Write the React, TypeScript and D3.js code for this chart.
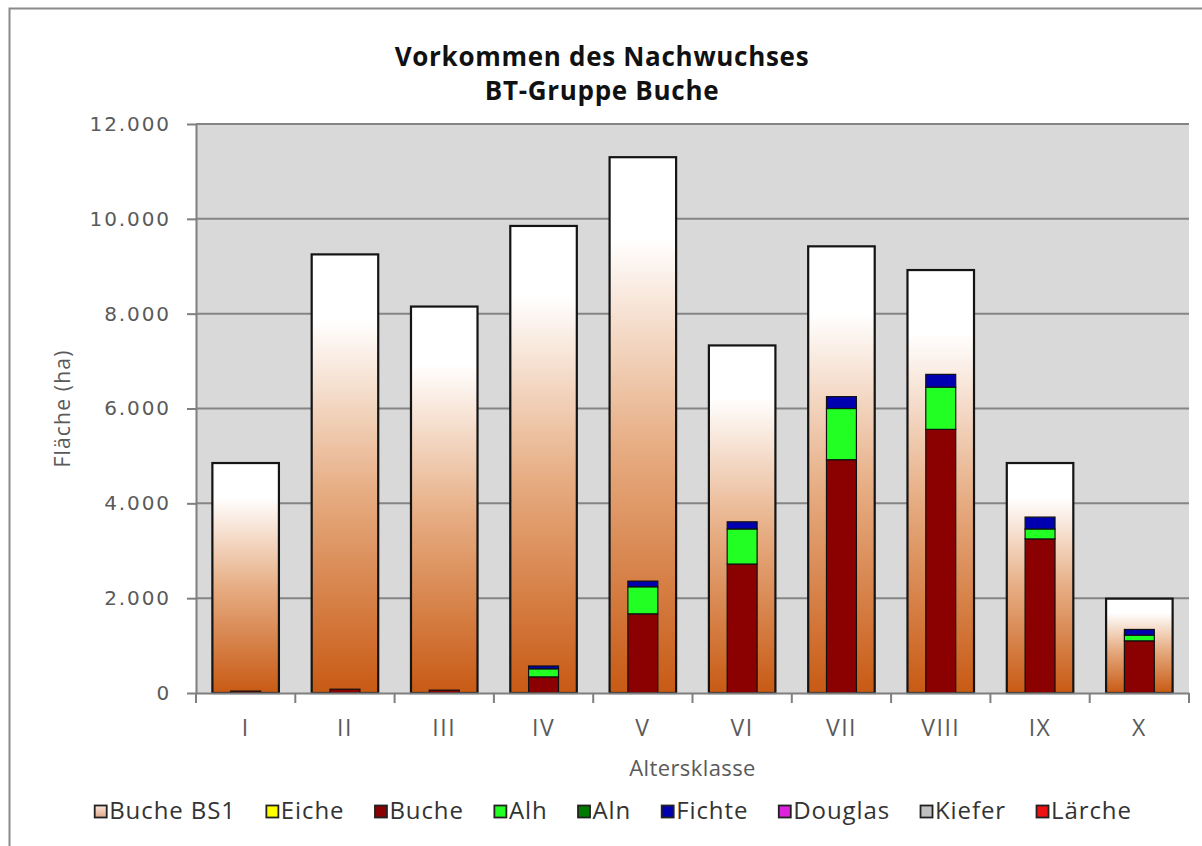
import React, { useEffect, useRef } from "react";
import * as d3 from "d3";

const categories = ["I", "II", "III", "IV", "V", "VI", "VII", "VIII", "IX", "X"];
const bucheBS1 = [4850, 9250, 8150, 9850, 11300, 7330, 9420, 8920, 4850, 1990];
const eiche = [0, 0, 0, 0, 0, 0, 0, 0, 0, 0];
const buche = [40, 80, 60, 340, 1670, 2720, 4920, 5560, 3250, 1100];
const alh = [0, 0, 0, 170, 570, 740, 1080, 890, 210, 120];
const aln = [0, 0, 0, 0, 0, 0, 0, 0, 0, 0];
const fichte = [0, 0, 0, 60, 120, 150, 250, 270, 250, 120];
const douglas = [0, 0, 0, 0, 0, 0, 0, 0, 0, 0];
const kiefer = [0, 0, 0, 0, 0, 0, 0, 0, 0, 0];
const laerche = [0, 0, 0, 0, 0, 0, 0, 0, 0, 0];
const yTicks = [0, 2000, 4000, 6000, 8000, 10000, 12000];

const stackSeries = [
  { name: "Eiche", values: eiche, color: "#ffff00" },
  { name: "Buche", values: buche, color: "#8b0000" },
  { name: "Alh", values: alh, color: "#22ff22" },
  { name: "Aln", values: aln, color: "#007a00" },
  { name: "Fichte", values: fichte, color: "#0000b0" },
  { name: "Douglas", values: douglas, color: "#dd22dd" },
  { name: "Kiefer", values: kiefer, color: "#c0c0c0" },
  { name: "Lärche", values: laerche, color: "#ee1111" },
];

const W = 1202;
const H = 846;
const margin = { top: 124, right: 13, bottom: 153, left: 196 };

function App() {
  const ref = useRef<SVGSVGElement>(null);

  useEffect(() => {
    const svg = d3.select(ref.current);
    svg.selectAll("*").remove();

    let width = W - margin.left - margin.right,
      height = H - margin.top - margin.bottom;

    const defs = svg.append("defs");
    const grad = defs.append("linearGradient")
      .attr("id", "bs1")
      .attr("x1", 0).attr("y1", 0).attr("x2", 0).attr("y2", 1);
    grad.append("stop").attr("offset", "0%").attr("stop-color", "#ffffff");
    grad.append("stop").attr("offset", "15%").attr("stop-color", "#ffffff");
    grad.append("stop").attr("offset", "55%").attr("stop-color", "#e6ab80");
    grad.append("stop").attr("offset", "100%").attr("stop-color", "#c85a14");

    const legGrad = defs.append("linearGradient")
      .attr("id", "bs1leg")
      .attr("x1", 0).attr("y1", 0).attr("x2", 0).attr("y2", 1);
    legGrad.append("stop").attr("offset", "0%").attr("stop-color", "#fbe6dc");
    legGrad.append("stop").attr("offset", "100%").attr("stop-color", "#e0a688");

    // chart area
    svg.append("rect")
      .attr("x", 0).attr("y", 0).attr("width", W).attr("height", H)
      .attr("fill", "#fff");
    svg.append("rect")
      .attr("x", 9.5).attr("y", 8.5).attr("width", W + 20).attr("height", H + 20)
      .attr("fill", "none").attr("stroke", "#8a8a8a").attr("stroke-width", 2);

    // title
    const title = svg.append("text")
      .attr("x", 602).attr("text-anchor", "middle")
      .attr("font-family", "'Open Sans', sans-serif")
      .attr("font-weight", "bold").attr("font-size", 26)
      .attr("letter-spacing", 0.7).attr("fill", "#111");
    title.append("tspan").attr("x", 602).attr("y", 66).text("Vorkommen des Nachwuchses");
    title.append("tspan").attr("x", 602).attr("y", 100).text("BT-Gruppe Buche");

    const g = svg.append("g")
      .attr("transform", "translate(" + margin.left + "," + margin.top + ")");

    const x = d3.scaleBand()
      .domain(categories)
      .range([0, width])
      .paddingInner(0.33)
      .paddingOuter(0.165);
    const y = d3.scaleLinear().domain([0, 12000]).range([height, 0]);

    g.append("rect")
      .attr("width", width).attr("height", height)
      .attr("fill", "#d9d9d9");

    g.selectAll(".grid")
      .data(yTicks.filter((t) => t > 0))
      .join("line")
      .attr("x1", 0).attr("x2", width)
      .attr("y1", (d) => y(d)).attr("y2", (d) => y(d))
      .attr("stroke", "#858585").attr("stroke-width", 2);

    // outer bars
    g.selectAll(".outer")
      .data(bucheBS1)
      .join("rect")
      .attr("x", (_, i) => x(categories[i])!)
      .attr("y", (d) => y(d))
      .attr("width", x.bandwidth())
      .attr("height", (d) => height - y(d))
      .attr("fill", "url(#bs1)")
      .attr("stroke", "#141414").attr("stroke-width", 2.2);

    // stacked inner bars
    const rows = categories.map((c, i) => {
      const r: any = { cat: c };
      stackSeries.forEach((s) => (r[s.name] = s.values[i]));
      return r;
    });
    const stacked = d3.stack().keys(stackSeries.map((s) => s.name))(rows);
    const innerW = x.bandwidth() * 0.45;
    stacked.forEach((layer, li) => {
      g.selectAll(".l" + li)
        .data(layer.filter((d) => d[1] - d[0] > 0))
        .join("rect")
        .attr("x", (d: any) => x(d.data.cat)! + (x.bandwidth() - innerW) / 2)
        .attr("y", (d) => y(d[1]))
        .attr("width", innerW)
        .attr("height", (d) => y(d[0]) - y(d[1]))
        .attr("fill", stackSeries[li].color)
        .attr("stroke", "#111").attr("stroke-width", 1.2);
    });

    // y axis
    const yAxis = g.append("g")
      .call(d3.axisLeft(y).tickValues(yTicks).tickSize(9).tickSizeOuter(0)
        .tickFormat((d) => d3.format(",")(d as number).replace(/,/g, ".")));
    yAxis.select(".domain").attr("stroke", "#7f7f7f").attr("stroke-width", 2);
    yAxis.selectAll(".tick line").attr("stroke", "#7f7f7f").attr("stroke-width", 2);
    yAxis.selectAll(".tick text")
      .attr("x", -25)
      .attr("fill", "#5a5a5a")
      .attr("font-family", "'DejaVu Sans', sans-serif")
      .attr("font-size", 20)
      .attr("letter-spacing", 1.9);

    // x axis
    const xAxis = g.append("g")
      .attr("transform", "translate(0," + height + ")")
      .call(d3.axisBottom(x).tickSize(0).tickSizeOuter(0));
    xAxis.select(".domain").attr("stroke", "#7f7f7f").attr("stroke-width", 2);
    xAxis.selectAll(".tick text")
      .attr("y", 0).attr("dy", 43)
      .attr("fill", "#5a5a5a")
      .attr("font-family", "'Open Sans', sans-serif")
      .attr("font-size", 23)
      .attr("letter-spacing", 1.5);
    xAxis.selectAll(".sep")
      .data(d3.range(categories.length + 1))
      .join("line")
      .attr("x1", (i) => i * x.step()).attr("x2", (i) => i * x.step())
      .attr("y1", 0).attr("y2", 10)
      .attr("stroke", "#7f7f7f").attr("stroke-width", 2);

    // axis titles
    svg.append("text")
      .attr("x", margin.left + width / 2).attr("y", 776)
      .attr("text-anchor", "middle")
      .attr("font-family", "'Open Sans', sans-serif")
      .attr("font-size", 22).attr("letter-spacing", 0.4).attr("fill", "#5a5a5a")
      .text("Altersklasse");
    svg.append("text")
      .attr("transform", "translate(70," + (margin.top + height / 2) + ") rotate(-90)")
      .attr("text-anchor", "middle")
      .attr("font-family", "'Open Sans', sans-serif")
      .attr("font-size", 21).attr("letter-spacing", 1.2).attr("fill", "#5a5a5a")
      .text("Fläche (ha)");

    // legend
    const legendItems = [{ name: "Buche BS1", color: "url(#bs1leg)" }, ...stackSeries];
    const legend = svg.append("g");
    const items = legend.selectAll("g")
      .data(legendItems)
      .join("g");
    items.append("rect")
      .attr("x", 0.5).attr("y", -13.5).attr("width", 12).attr("height", 12)
      .attr("fill", (d) => d.color)
      .attr("stroke", "#222").attr("stroke-width", 1.8);
    items.append("text")
      .attr("x", 15).attr("y", 0)
      .attr("font-family", "'Open Sans', sans-serif")
      .attr("font-size", 24).attr("letter-spacing", 0.9).attr("fill", "#333")
      .text((d) => d.name);
    const gap = 30;
    let cx = 0;
    items.each(function () {
      const it = d3.select(this);
      it.attr("transform", "translate(" + cx + ",0)");
      const tw = (it.select("text").node() as SVGTextElement).getComputedTextLength();
      cx += 15 + tw + gap;
    });
    const total = cx - gap;
    legend.attr("transform", "translate(" + (613 - total / 2) + ",819)");
  }, []);

  return (
    <svg
      ref={ref}
      width={W}
      height={H}
      style={{ position: "absolute", left: 0, top: 0 }}
    />
  );
}

export default App;
